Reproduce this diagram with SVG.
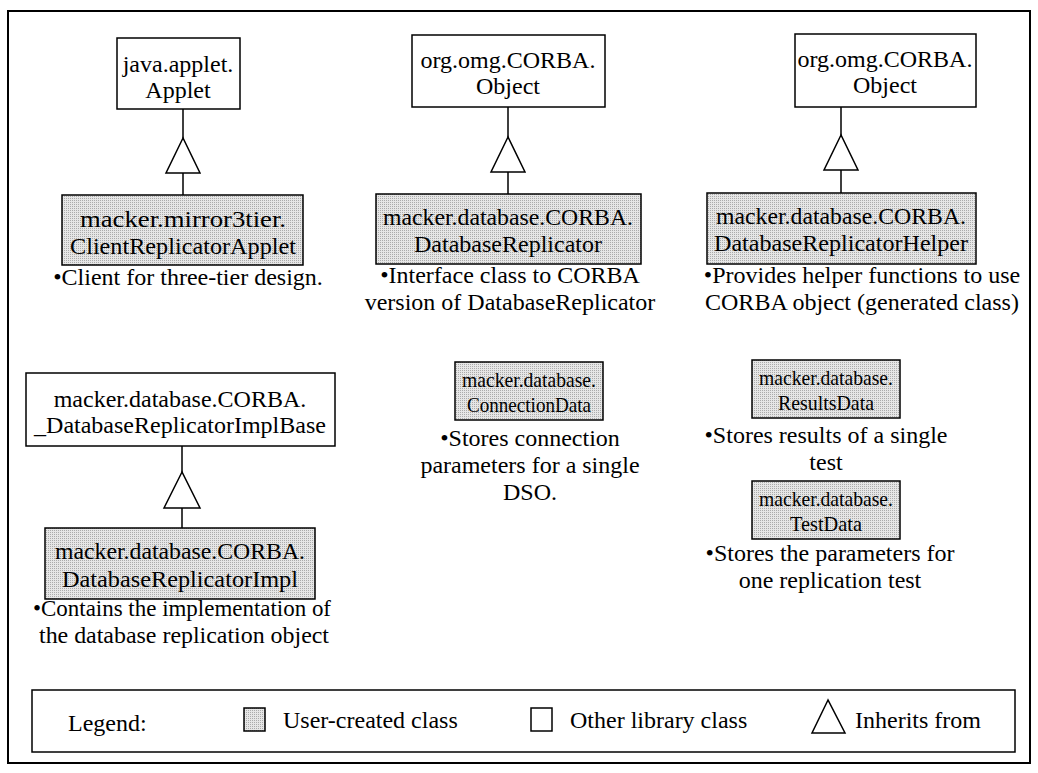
<svg xmlns="http://www.w3.org/2000/svg" width="1038" height="773" viewBox="0 0 1038 773">
  <defs>
    <!-- halftone-like fill for user-created classes -->
    <pattern id="dots" width="2" height="2" patternUnits="userSpaceOnUse">
      <rect width="2" height="2" fill="#e6e6e6"/>
      <rect width="1" height="1" fill="#ababab"/>
    </pattern>
    <style>
      text { font-family: "Liberation Serif", "Times New Roman", serif; font-size: 24px; fill: #000; }
      .c { text-anchor: middle; }
      .sm { font-size: 22px; }
      .lib { fill: #fff; stroke: #000; stroke-width: 1.5; }
      .user { fill: url(#dots); stroke: #000; stroke-width: 1.5; }
      .edge { fill: none; stroke: #000; stroke-width: 1.5; }
      .tri { fill: #fff; stroke: #000; stroke-width: 1.5; }
    </style>
  </defs>

  <rect width="1038" height="773" fill="#fff"/>
  <!-- outer frame -->
  <rect x="8" y="11" width="1022" height="752" fill="none" stroke="#000" stroke-width="2"/>

  <!-- inheritance connectors -->
  <g id="connectors">
    <path class="edge" d="M183,109 V138 M183,173 V195"/>
    <polygon class="tri" points="183,138 166,173 200,173"/>
    <path class="edge" d="M508,107 V137 M508,172 V194"/>
    <polygon class="tri" points="508,137 491,172 525,172"/>
    <path class="edge" d="M841,107 V135 M841,170 V193"/>
    <polygon class="tri" points="841,135 824,170 858,170"/>
    <path class="edge" d="M182,446 V472 M182,508 V528"/>
    <polygon class="tri" points="182,472 164,508 200,508"/>
  </g>

  <g id="node-applet">
    <rect class="lib" x="117" y="38" width="123" height="71"/>
    <text class="c" x="178" y="72">java.applet.</text>
    <text class="c" x="178" y="98">Applet</text>
  </g>

  <g id="node-client-replicator-applet">
    <rect class="user" x="62" y="195" width="241" height="70"/>
    <text class="c" x="183" y="227" textLength="206" lengthAdjust="spacingAndGlyphs">macker.mirror3tier.</text>
    <text class="c" x="183" y="254" textLength="226" lengthAdjust="spacingAndGlyphs">ClientReplicatorApplet</text>
    <text class="c" x="188" y="285">•Client for three-tier design.</text>
  </g>

  <g id="node-corba-object-1">
    <rect class="lib" x="412" y="35" width="193" height="72"/>
    <text class="c" x="508" y="68">org.omg.CORBA.</text>
    <text class="c" x="508" y="94">Object</text>
  </g>

  <g id="node-database-replicator">
    <rect class="user" x="376" y="194" width="265" height="70"/>
    <text class="c" x="508" y="225" textLength="250" lengthAdjust="spacingAndGlyphs">macker.database.CORBA.</text>
    <text class="c" x="508" y="252">DatabaseReplicator</text>
    <text class="c" x="510" y="283">•Interface class to CORBA</text>
    <text class="c" x="510" y="310">version of DatabaseReplicator</text>
  </g>

  <g id="node-corba-object-2">
    <rect class="lib" x="795" y="34" width="181" height="73"/>
    <text class="c" x="885" y="67">org.omg.CORBA.</text>
    <text class="c" x="885" y="93">Object</text>
  </g>

  <g id="node-database-replicator-helper">
    <rect class="user" x="707" y="193" width="269" height="71"/>
    <text class="c" x="841" y="224" textLength="250" lengthAdjust="spacingAndGlyphs">macker.database.CORBA.</text>
    <text class="c" x="841" y="251" textLength="254" lengthAdjust="spacingAndGlyphs">DatabaseReplicatorHelper</text>
    <text class="c" x="862" y="283">•Provides helper functions to use</text>
    <text class="c" x="862" y="310">CORBA object (generated class)</text>
  </g>

  <g id="node-impl-base">
    <rect class="lib" x="26" y="373" width="309" height="73"/>
    <text class="c" x="180" y="407">macker.database.CORBA.</text>
    <text class="c" x="180" y="433">_DatabaseReplicatorImplBase</text>
  </g>

  <g id="node-database-replicator-impl">
    <rect class="user" x="45" y="528" width="270" height="71"/>
    <text class="c" x="180" y="559" textLength="250" lengthAdjust="spacingAndGlyphs">macker.database.CORBA.</text>
    <text class="c" x="180" y="587" textLength="236" lengthAdjust="spacingAndGlyphs">DatabaseReplicatorImpl</text>
    <text class="c" x="182" y="616" textLength="298" lengthAdjust="spacingAndGlyphs">•Contains the implementation of</text>
    <text class="c" x="184" y="643" textLength="290" lengthAdjust="spacingAndGlyphs">the database replication object</text>
  </g>

  <g id="node-connection-data">
    <rect class="user" x="455" y="362" width="148" height="58"/>
    <text class="c sm" x="529" y="387" textLength="134" lengthAdjust="spacingAndGlyphs">macker.database.</text>
    <text class="c sm" x="529" y="412" textLength="124" lengthAdjust="spacingAndGlyphs">ConnectionData</text>
    <text class="c" x="530" y="446">•Stores connection</text>
    <text class="c" x="530" y="473">parameters for a single</text>
    <text class="c" x="530" y="500">DSO.</text>
  </g>

  <g id="node-results-data">
    <rect class="user" x="752" y="360" width="148" height="58"/>
    <text class="c sm" x="826" y="385" textLength="134" lengthAdjust="spacingAndGlyphs">macker.database.</text>
    <text class="c sm" x="826" y="410" textLength="96" lengthAdjust="spacingAndGlyphs">ResultsData</text>
    <text class="c" x="826" y="443">•Stores results of a single</text>
    <text class="c" x="826" y="470">test</text>
  </g>

  <g id="node-test-data">
    <rect class="user" x="752" y="481" width="148" height="58"/>
    <text class="c sm" x="826" y="506" textLength="134" lengthAdjust="spacingAndGlyphs">macker.database.</text>
    <text class="c sm" x="826" y="531" textLength="72" lengthAdjust="spacingAndGlyphs">TestData</text>
    <text class="c" x="830" y="561">•Stores the parameters for</text>
    <text class="c" x="830" y="588">one replication test</text>
  </g>

  <g id="legend">
    <rect x="32" y="690" width="983" height="62" fill="#fff" stroke="#000" stroke-width="1.5"/>
    <text x="68" y="731">Legend:</text>
    <rect class="user" x="244" y="708" width="21" height="23"/>
    <text x="283" y="728">User-created class</text>
    <rect class="lib" x="531" y="708" width="21" height="23"/>
    <text x="570" y="728">Other library class</text>
    <polygon class="tri" points="828,700 812,733 845,733"/>
    <text x="855" y="728">Inherits from</text>
  </g>
</svg>
